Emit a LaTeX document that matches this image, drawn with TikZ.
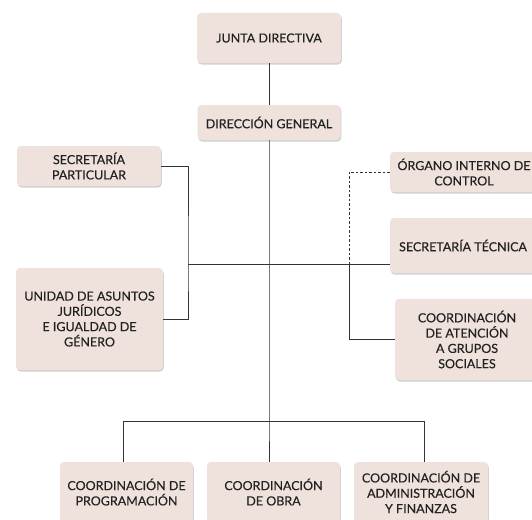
\documentclass[tikz,border=0pt]{standalone}
\usepackage{fontspec}
\setmainfont{Lato}
\newfontfamily\boxfont{Lato}[FakeBold=0.3]
\usetikzlibrary{shadows}
\definecolor{boxfill}{HTML}{EFE2DC}
\definecolor{ink}{HTML}{222222}
\definecolor{wire}{HTML}{333333}
\tikzset{
  orgbox/.style={fill=boxfill, rounded corners=4pt, align=center, inner sep=0pt,
    text=ink, font=\boxfont\fontsize{12.5}{15.3}\selectfont,
    drop shadow={shadow xshift=0.8pt, shadow yshift=-1.6pt, opacity=0.18, fill=black}},
  wireline/.style={draw=wire, line width=1pt},
  dashwire/.style={draw=wire, line width=1pt, dash pattern=on 2.5pt off 2pt},
}
\begin{document}
\begin{tikzpicture}[x=1pt,y=-1pt]
\clip (0,0) rectangle (532,519);
\fill[white] (0,0) rectangle (532,519);
% nodes
\node[orgbox, minimum width=144pt, minimum height=50pt] (junta) at (269,38) {JUNTA DIRECTIVA};
\node[orgbox, minimum width=143pt, minimum height=35pt] (dir) at (269,122.5) {DIRECCIÓN GENERAL};
\node[orgbox, minimum width=144pt, minimum height=40pt] (secpart) at (89,166) {SECRETARÍA\\PARTICULAR};
\node[orgbox, minimum width=147pt, minimum height=102pt] (unidad) at (89.5,319) {UNIDAD DE ASUNTOS\\JURÍDICOS\\E IGUALDAD DE\\GÉNERO};
\node[orgbox, minimum width=148pt, minimum height=40pt] (organo) at (464,172) {ÓRGANO INTERNO DE\\CONTROL};
\node[orgbox, minimum width=146pt, minimum height=55pt] (sectec) at (463,245.5) {SECRETARÍA TÉCNICA};
\node[orgbox, minimum width=144pt, minimum height=81pt] (coordat) at (467,339.5) {COORDINACIÓN\\DE ATENCIÓN\\A GRUPOS\\SOCIALES};
\node[orgbox, minimum width=133pt, minimum height=60pt] (prog) at (126.5,492) {COORDINACIÓN DE\\PROGRAMACIÓN};
\node[orgbox, minimum width=133pt, minimum height=60pt] (obra) at (273.5,492) {COORDINACIÓN\\DE OBRA};
\node[orgbox, minimum width=134pt, minimum height=60pt] (admin) at (421,492) {COORDINACIÓN DE\\ADMINISTRACIÓN\\Y FINANZAS};
% junction coordinates
\coordinate (hl) at (188,264);
\coordinate (hm) at (269,264);
\coordinate (hr) at (349,264);
\coordinate (bl) at (123,421);
\coordinate (bm) at (269,421);
\coordinate (br) at (424,421);
% connectors
\draw[wireline] (junta.south -| hm) -- (dir.north -| hm);
\draw[wireline] (dir.south -| hm) -- (bm) -- (bm |- obra.north);
\draw[wireline] (hl) -- (sectec.west |- hl);
\draw[wireline] (secpart.east) -| (hl) |- (unidad.east);
\draw[dashwire] (organo.west) -| (hr);
\draw[wireline] (hr) |- (coordat.west);
\draw[wireline] (bl) -- (br);
\draw[wireline] (bl) -- (bl |- prog.north);
\draw[wireline] (br) -- (br |- admin.north);
\end{tikzpicture}
\end{document}
